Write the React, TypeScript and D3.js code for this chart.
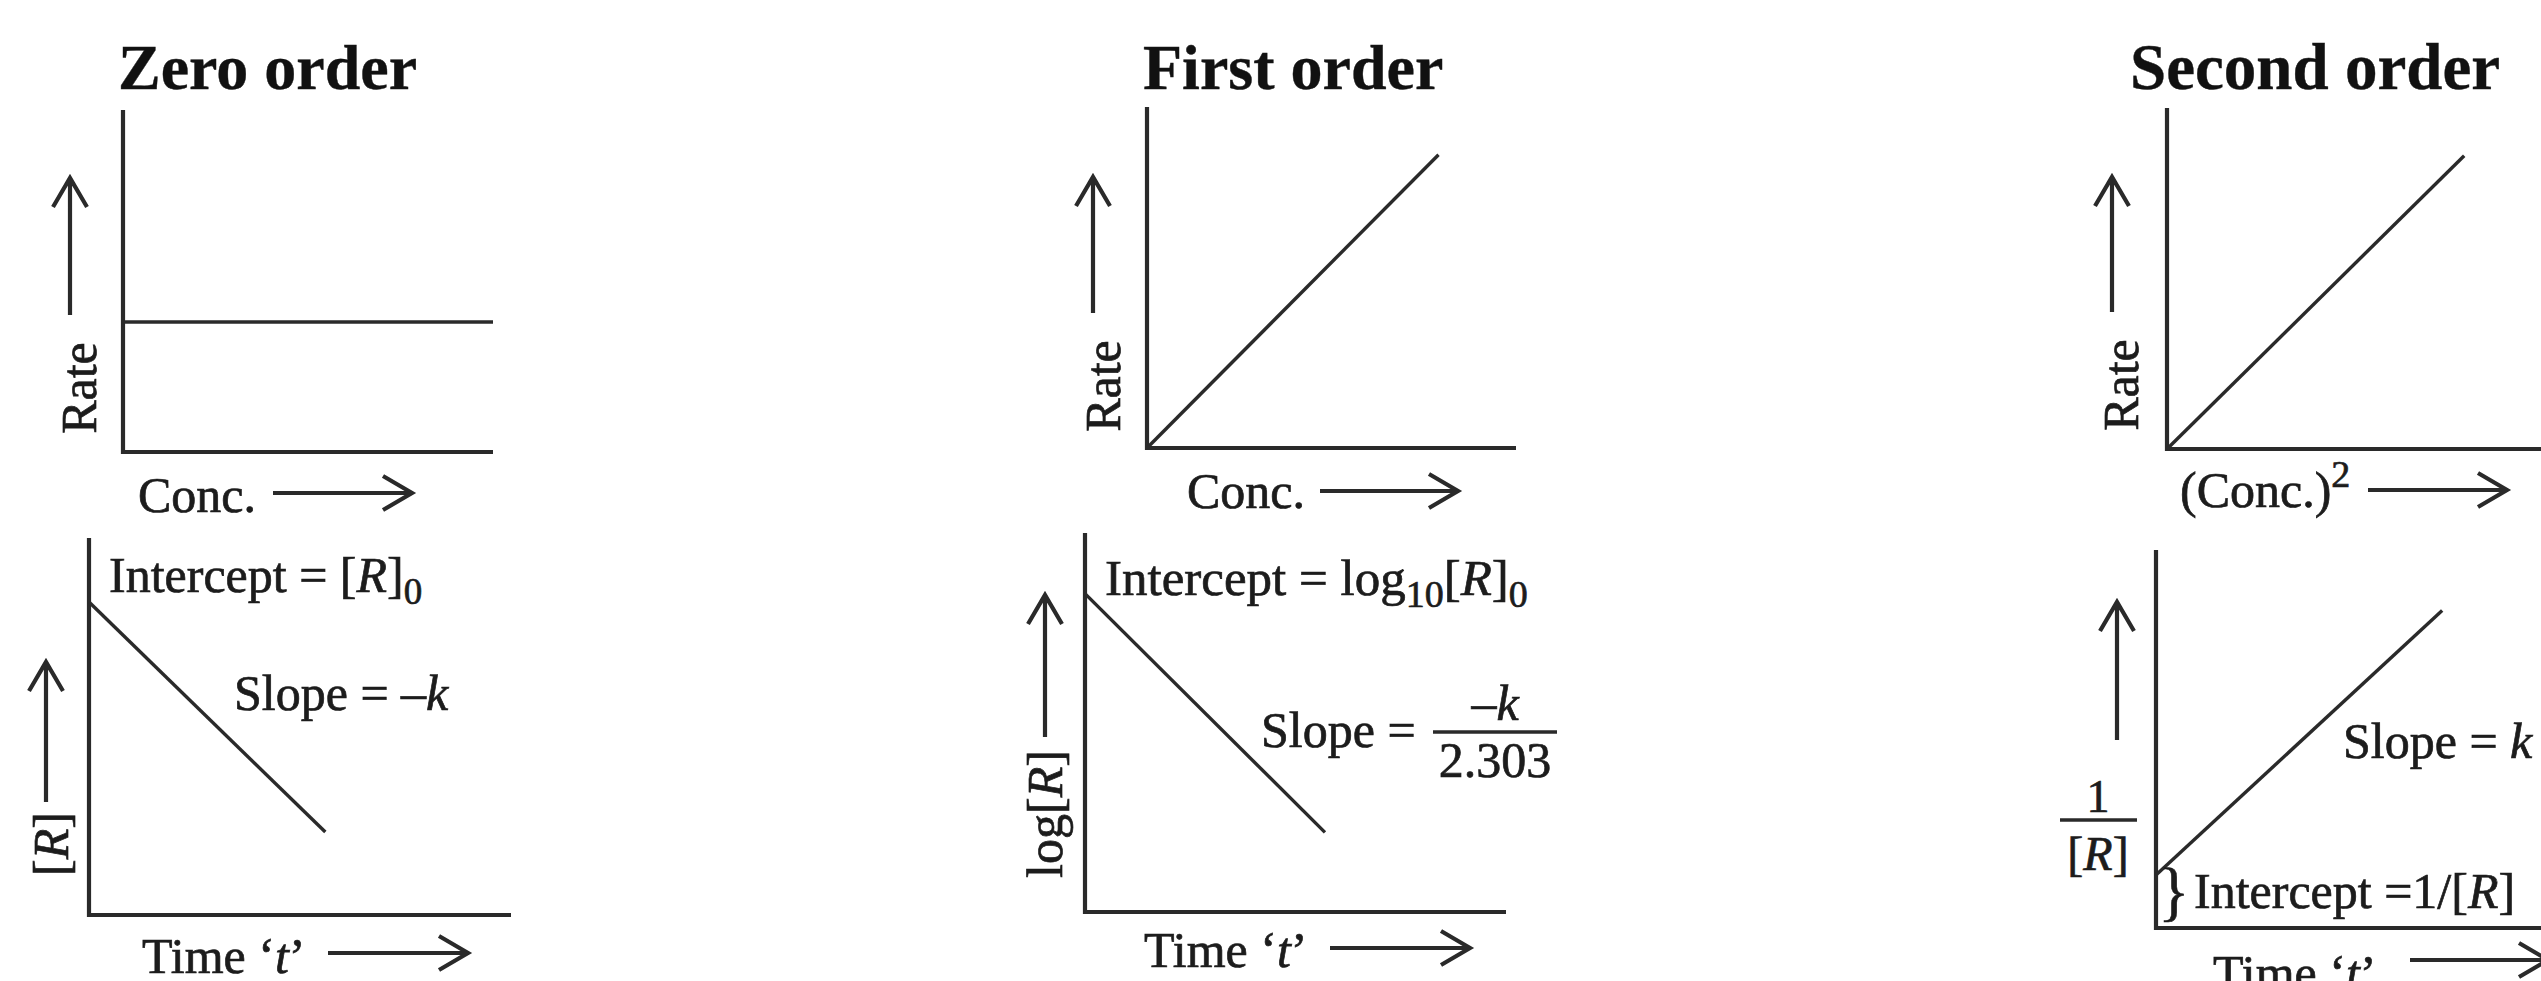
import React from "react";
import * as d3 from "d3";

// ---------- data (schematic values on a 0..1 scale per panel) ----------
const panelTitles = ["Zero order", "First order", "Second order"];
const zeroRateVsConc = [[0, 0.38], [1, 0.38]];
const firstRateVsConc = [[0, 0], [0.79, 0.86]];
const secondRateVsConc2 = [[0, 0], [0.78, 0.86]];
const zeroConcVsTime = [[0, 0.83], [0.56, 0.22]];
const firstLogConcVsTime = [[0, 0.84], [0.57, 0.21]];
const secondInvConcVsTime = [[0, 0.14], [0.73, 0.84]];

// ---------- layout ----------
const W = 2541;
const H = 981;
const FONT = "'Liberation Serif', 'Times New Roman', Times, serif";
const INK = "#1c1c1c";
const AX = "#2a2a2a";

type Box = { left: number; right: number; top: number; bottom: number };
const boxes: Record<string, Box> = {
  A: { left: 123, right: 493, top: 110, bottom: 452 },
  B: { left: 1147, right: 1516, top: 107, bottom: 448 },
  C: { left: 2167, right: 2548, top: 108, bottom: 449 },
  D: { left: 89, right: 511, top: 538, bottom: 915 },
  E: { left: 1085, right: 1506, top: 533, bottom: 912 },
  F: { left: 2156, right: 2548, top: 550, bottom: 928 },
};

function scalesFor(b: Box) {
  const x = d3.scaleLinear().domain([0, 1]).range([b.left, b.right]);
  const y = d3.scaleLinear().domain([0, 1]).range([b.bottom, b.top]);
  return { x, y };
}

function Panel({ box, data }: { box: Box; data: number[][] }) {
  const { x, y } = scalesFor(box);
  const line = d3
    .line<number[]>()
    .x((d) => x(d[0]))
    .y((d) => y(d[1]));
  const axisPath = `M${x(0)},${y(1)} V${y(0)} H${x(1)}`;
  return (
    <g>
      <path d={axisPath} fill="none" stroke={AX} strokeWidth={4.2} strokeLinejoin="miter" />
      <path d={line(data) || ""} fill="none" stroke={AX} strokeWidth={3.4} />
    </g>
  );
}

function HArrow({ x1, x2, y }: { x1: number; x2: number; y: number }) {
  const d = `M${x1},${y} H${x2 - 1} M${x2 - 29},${y - 17} L${x2},${y} L${x2 - 29},${y + 17}`;
  return <path d={d} fill="none" stroke={AX} strokeWidth={4.2} strokeLinejoin="miter" />;
}

function VArrow({ x, y1, y2 }: { x: number; y1: number; y2: number }) {
  const d = `M${x},${y1} V${y2 + 1} M${x - 17},${y2 + 29} L${x},${y2} L${x + 17},${y2 + 29}`;
  return <path d={d} fill="none" stroke={AX} strokeWidth={4.2} strokeLinejoin="miter" />;
}

const T = (props: any) => (
  <text
    fontFamily={FONT}
    fontSize={50}
    fill={INK}
    stroke={INK}
    strokeWidth={0.7}
    {...props}
  />
);

export default function App() {
  return (
    <svg
      width={W}
      height={H}
      viewBox={`0 0 ${W} ${H}`}
      style={{ position: "absolute", left: 0, top: 0, display: "block", background: "#fff" }}
    >
      <rect x={0} y={0} width={W} height={H} fill="#fff" />

      {/* titles */}
      <T x={118} y={89} fontSize={64} fontWeight="bold" fill="#111" strokeWidth={0.4}>{panelTitles[0]}</T>
      <T x={1143} y={89} fontSize={64} fontWeight="bold" fill="#111" strokeWidth={0.4}>{panelTitles[1]}</T>
      <T x={2130} y={89} fontSize={65} fontWeight="bold" fill="#111" strokeWidth={0.4}>{panelTitles[2]}</T>

      {/* ---------- Zero order ---------- */}
      <Panel box={boxes.A} data={zeroRateVsConc} />
      <VArrow x={70} y1={315} y2={178} />
      <T transform="translate(96,388) rotate(-90)" textAnchor="middle">Rate</T>
      <T x={138} y={512}>Conc.</T>
      <HArrow x1={273} x2={412} y={493} />

      <Panel box={boxes.D} data={zeroConcVsTime} />
      <VArrow x={46} y1={802} y2={662} />
      <T transform="translate(68,844) rotate(-90)" textAnchor="middle">
        [<tspan fontStyle="italic">R</tspan>]
      </T>
      <T x={109} y={592}>
        Intercept = [<tspan fontStyle="italic">R</tspan>]
        <tspan fontSize={37} dy={12}>0</tspan>
      </T>
      <T x={234} y={710}>
        Slope = –<tspan fontStyle="italic">k</tspan>
      </T>
      <T x={142} y={973}>
        Time ‘<tspan fontStyle="italic">t</tspan>’
      </T>
      <HArrow x1={328} x2={468} y={953} />

      {/* ---------- First order ---------- */}
      <Panel box={boxes.B} data={firstRateVsConc} />
      <VArrow x={1093} y1={313} y2={177} />
      <T transform="translate(1120,386) rotate(-90)" textAnchor="middle">Rate</T>
      <T x={1187} y={508}>Conc.</T>
      <HArrow x1={1320} x2={1458} y={491} />

      <Panel box={boxes.E} data={firstLogConcVsTime} />
      <VArrow x={1045} y1={737} y2={595} />
      <T transform="translate(1062,814) rotate(-90)" textAnchor="middle">
        log[<tspan fontStyle="italic">R</tspan>]
      </T>
      <T x={1105} y={595} fontSize={51}>
        Intercept = log<tspan fontSize={38} dy={12}>10</tspan>
        <tspan dy={-12}>[</tspan>
        <tspan fontStyle="italic">R</tspan>]<tspan fontSize={38} dy={12}>0</tspan>
      </T>
      <T x={1261} y={747}>Slope =</T>
      <T x={1495} y={720} textAnchor="middle">
        –<tspan fontStyle="italic">k</tspan>
      </T>
      <line x1={1433} x2={1557} y1={732} y2={732} stroke={AX} strokeWidth={3.4} />
      <T x={1495} y={777} textAnchor="middle">2.303</T>
      <T x={1144} y={967}>
        Time ‘<tspan fontStyle="italic">t</tspan>’
      </T>
      <HArrow x1={1330} x2={1470} y={948} />

      {/* ---------- Second order ---------- */}
      <Panel box={boxes.C} data={secondRateVsConc2} />
      <VArrow x={2112} y1={312} y2={177} />
      <T transform="translate(2138,385) rotate(-90)" textAnchor="middle">Rate</T>
      <T x={2180} y={507}>
        (Conc.)<tspan fontSize={38} dy={-20}>2</tspan>
      </T>
      <HArrow x1={2368} x2={2507} y={490} />

      <Panel box={boxes.F} data={secondInvConcVsTime} />
      <VArrow x={2117} y1={740} y2={602} />
      <T x={2098} y={812} textAnchor="middle" fontSize={46}>1</T>
      <line x1={2060} x2={2137} y1={820} y2={820} stroke={AX} strokeWidth={3.4} />
      <T x={2098} y={870} textAnchor="middle" fontSize={48}>
        [<tspan fontStyle="italic">R</tspan>]
      </T>
      <T x={2343} y={758}>
        Slope = <tspan fontStyle="italic">k</tspan>
      </T>
      <T x={2158} y={913} fontSize={66} strokeWidth={0.5}>{"}"}</T>
      <T x={2194} y={908}>
        Intercept =1/[<tspan fontStyle="italic">R</tspan>]
      </T>
      <T x={2213} y={990}>
        Time ‘<tspan fontStyle="italic">t</tspan>’
      </T>
      <HArrow x1={2410} x2={2548} y={960} />
    </svg>
  );
}
